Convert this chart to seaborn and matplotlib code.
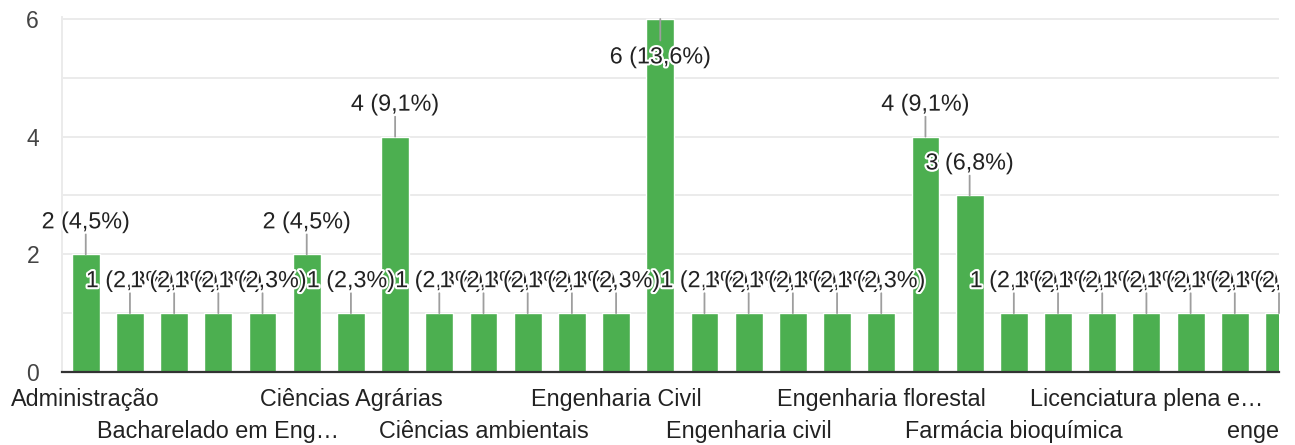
import numpy as np
import pandas as pd
import matplotlib
matplotlib.use('Agg')
import matplotlib.pyplot as plt
import matplotlib.patheffects as pe
from matplotlib.transforms import Bbox
import seaborn as sns

# answers per course (Google Forms style bar chart, 44 answers in total)
counts = [2, 1, 1, 1, 1, 2, 1, 4, 1, 1, 1, 1, 1, 6, 1, 1, 1, 1, 1, 4, 3, 1, 1, 1, 1, 1, 1, 1]
total = 44
tick_pos = [0, 3, 6, 9, 12, 15, 18, 21, 24, 27]
tick_labels = ['Administração', 'Bacharelado em Eng…', 'Ciências Agrárias',
               'Ciências ambientais', 'Engenharia Civil', 'Engenharia civil',
               'Engenharia florestal', 'Farmácia bioquímica',
               'Licenciatura plena e…', 'enge']
y_ticks = [0, 1, 2, 3, 4, 5, 6]
y_labels = ['0', '', '2', '', '4', '', '6']

df = pd.DataFrame({'pos': np.arange(len(counts)), 'count': counts})

sns.set_theme(style="white")
plt.rcParams['font.family'] = ['Liberation Sans', 'DejaVu Sans']

fig = plt.figure(figsize=(12.95, 4.45), dpi=100)
ax = fig.add_axes([62 / 1295, 1 - 372 / 445, (1279 - 62) / 1295, (372 - 17.2) / 445])

sns.barplot(data=df, x='pos', y='count', color='#4caf50', saturation=1,
            width=0.63, ax=ax)

ax.set_xlim(-0.5375, 26.72)
ax.set_ylim(0, 6.03)
ax.set_axisbelow(True)
ax.yaxis.grid(True, color='#ebebeb', lw=1.4)
ax.xaxis.grid(False)
ax.set_xlabel('')
ax.set_ylabel('')

for s in ['top', 'right']:
    ax.spines[s].set_visible(False)
ax.spines['left'].set_color('#ebebeb')
ax.spines['left'].set_linewidth(1.4)
ax.spines['bottom'].set_color('#333333')
ax.spines['bottom'].set_linewidth(1.6)
ax.spines['bottom'].set_zorder(5)

ax.set_yticks(y_ticks, y_labels)
ax.tick_params(axis='y', length=0, pad=16.5, labelsize=16.5, labelcolor='#444444')
ax.set_xticks(tick_pos, tick_labels)
ax.tick_params(axis='x', length=0, labelsize=16.8, labelcolor='#222222')
for k, t in enumerate(ax.xaxis.get_major_ticks()):
    t.set_pad(11.5 if k % 2 == 0 else 34.5)
ax.get_xticklabels()[-1].set_horizontalalignment('right')

# chart area is cut on the right like the scrolled original
right_clip = Bbox.from_extents(0, 0, 1279, 445)

# value labels with leader lines, Google charts look (overlapping with white halo)
ymax = max(counts)
for i, c in enumerate(counts):
    lab = f"{c} ({100 * c / total:.1f}%)".replace('.', ',')
    if c == ymax:
        txt_off, line_off = -32, -15.5
    else:
        txt_off, line_off = 18.7, 14.4
    ax.annotate('', xy=(i, c), xytext=(0, line_off), textcoords='offset points',
                arrowprops=dict(arrowstyle='-', color='#9e9e9e', lw=1.3,
                                shrinkA=0, shrinkB=0),
                annotation_clip=True)
    t = ax.annotate(lab, xy=(i, c), xytext=(0, txt_off), textcoords='offset points',
                    ha='center', va='baseline', fontsize=16.8, color='#222222',
                    path_effects=[pe.withStroke(linewidth=3, foreground='white')],
                    annotation_clip=False)
    t.set_clip_on(True)
    t.set_clip_box(right_clip)

plt.savefig('out.png', dpi=100)
